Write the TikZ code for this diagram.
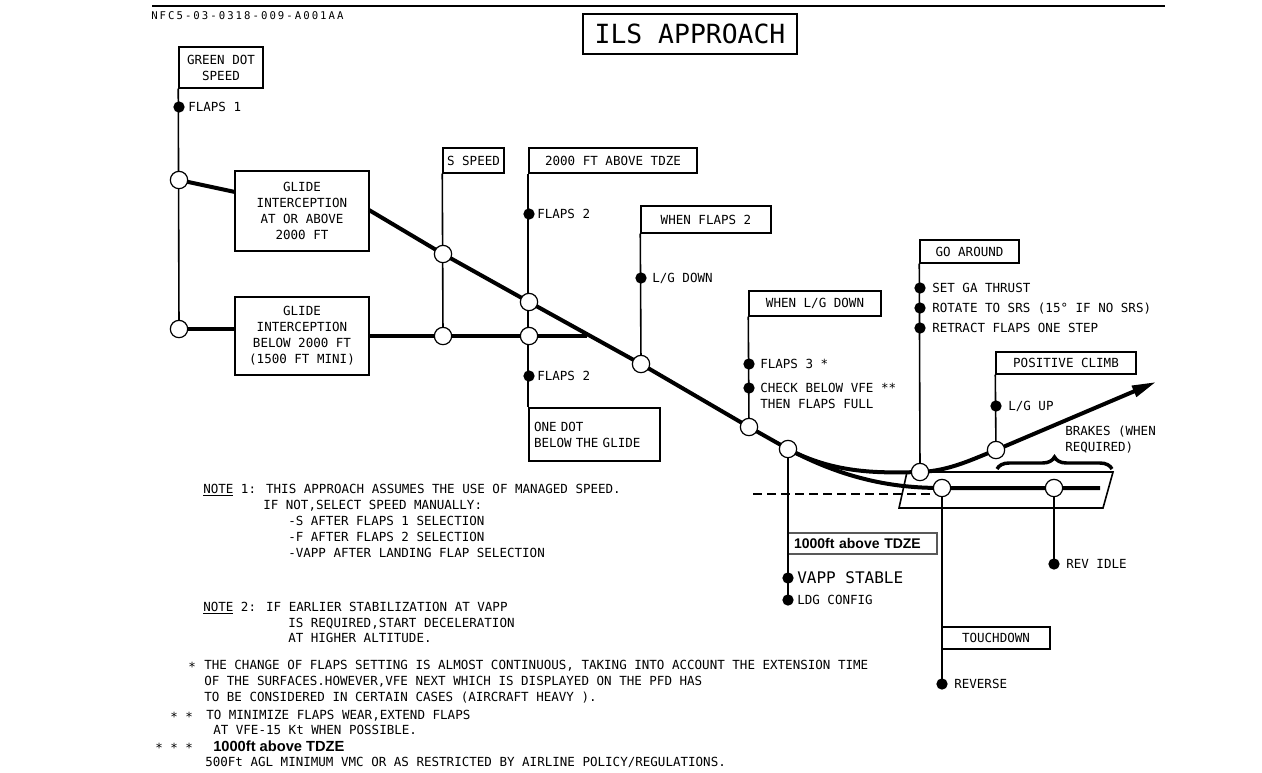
\documentclass[tikz,border=0pt]{standalone}
\usepackage{fontspec}
\setmainfont{DejaVu Sans Mono}
\newfontfamily\arialfont{Liberation Sans}
\newfontfamily\codefont[LetterSpace=19]{DejaVu Sans Mono}
\usetikzlibrary{arrows.meta,decorations.pathreplacing}
\tikzset{
  box/.style={draw, line width=1.1pt, fill=white, inner sep=0pt, align=center, font=\fontsize{9.4}{12}\selectfont},
  ocirc/.style={circle, draw, line width=0.9pt, fill=white, minimum size=13pt, inner sep=0pt},
  dot/.style={circle, fill=black, minimum size=8.5pt, inner sep=0pt},
  lbl/.style={font=\fontsize{9.4}{12}\selectfont, inner sep=0pt, text height=6.9pt, text depth=0pt, anchor=west},
  biglbl/.style={font=\fontsize{12}{14}\selectfont, inner sep=0pt, text height=8.8pt, text depth=0pt, anchor=west},
  stem/.style={line width=1.2pt},
  glide/.style={line width=3pt, line join=round},
  lowline/.style={line width=3.6pt},
}
\begin{document}
\begin{tikzpicture}[x=0.75pt,y=-0.75pt]
\useasboundingbox (0,0) rectangle (1262,772);
\fill[white] (0,0) rectangle (1262,772);

% header
\coordinate (r0) at (152,6); \coordinate (r1) at (1165,6);
\draw[line width=1.6pt] (r0) -- (r1);
\node[anchor=west, inner sep=0pt, font=\fontsize{8}{9}\codefont] (code) at (151,16) {NFC5-03-0318-009-A001AA};

% boxes
\node[box, line width=1.3pt, minimum width=160.5pt, minimum height=30pt, font=\fontsize{19.8}{24}\selectfont] (title) at (690,34) {ILS APPROACH};
\node[box, minimum width=63pt, minimum height=30.75pt] (gd) at (221,67.5) {GREEN DOT\\SPEED};
\node[box, minimum width=100.5pt, minimum height=60pt] (gi1) at (302,211) {GLIDE\\INTERCEPTION\\AT OR ABOVE\\2000 FT};
\node[box, minimum width=100.5pt, minimum height=58.5pt] (gi2) at (302,336) {GLIDE\\INTERCEPTION\\BELOW 2000 FT\\(1500 FT MINI)};
\node[box, minimum width=45.75pt, minimum height=18.75pt] (ss) at (473.5,160.5) {S SPEED};
\node[box, minimum width=126pt, minimum height=18.75pt] (tdze) at (613,160.5) {2000 FT ABOVE TDZE};
\node[box, minimum width=97.5pt, minimum height=20.25pt] (wf2) at (706,219.5) {WHEN FLAPS 2};
\node[box, minimum width=99pt, minimum height=18.75pt] (wlg) at (815,303.5) {WHEN L/G DOWN};
\node[box, minimum width=74.25pt, minimum height=17.25pt] (ga) at (969.5,251.5) {GO AROUND};
\node[box, minimum width=105pt, minimum height=16.5pt] (pc) at (1066,363) {POSITIVE CLIMB};
\node[box, align=left, text width=90.75pt, inner xsep=3.75pt, minimum height=39.75pt] (od) at (594.5,434.5) {ONE DOT\\BELOW THE GLIDE};
\node[box, draw=black!65, align=left, text width=102.75pt, inner xsep=4.5pt, minimum height=15.75pt, font=\arialfont\bfseries\fontsize{10.5}{12}\selectfont] (k1000) at (862.5,543.5) {1000ft above TDZE};
\node[box, minimum width=81pt, minimum height=16.5pt] (td) at (996,638) {TOUCHDOWN};

% key points
\coordinate (A0) at (179,180);
\coordinate (A1) at (235,192);
\coordinate (A2) at (369,210);
\coordinate (S1) at (443,254);
\coordinate (T1) at (529,302);
\coordinate (W1) at (641,364);
\coordinate (L1) at (749,427);
\coordinate (K1) at (788,449);
\coordinate (G1) at (920,472);
\coordinate (P1) at (996,450);
\coordinate (tip) at (1156,382);
\coordinate (TD) at (942,488);
\coordinate (RI) at (1054,488);
\coordinate (rwyEnd) at (1100,488);
\coordinate (B0) at (179,329);
\coordinate (B1) at (235,329);
\coordinate (B2) at (369,336);
\coordinate (S2) at (443,336);
\coordinate (T2) at (529,336);
\coordinate (B3) at (587,336);
\coordinate (ldgP) at (788,600);
\coordinate (revP) at (942,684);
\coordinate (riP) at (1054,564);
\coordinate (rw1) at (907,472);
\coordinate (rw2) at (1113,472);
\coordinate (rw3) at (1103,508);
\coordinate (rw4) at (899,508);
\coordinate (dsh0) at (753,494);
\coordinate (dsh1) at (934,494);
\coordinate (br0) at (997,469);
\coordinate (br1) at (1112,469);

% stems
\draw[stem] (gd.south west) -- (B0);
\draw[stem] (ss.south west) -- (S2);
\draw[stem] (tdze.south west) -- (od.north west);
\draw[stem] (wf2.south west) -- (W1);
\draw[stem] (wlg.south west) -- (L1);
\draw[stem] (K1) -- (ldgP);
\draw[stem] (ga.south west) -- (G1);
\draw[stem] (pc.south west) -- (P1);
\draw[stem] (TD) -- (revP);
\draw[stem] (RI) -- (riP);

% runway
\draw[stem] (rw1) -- (rw2) -- (rw3) -- (rw4) -- cycle;
\draw[stem, dash pattern=on 6.75pt off 3.75pt] (dsh0) -- (dsh1);
\draw[line width=2.6pt, decorate, decoration={brace, amplitude=9pt}] (br0) -- (br1);

% flight paths
\draw[glide] (A0) -- (A1);
\draw[glide, -{Triangle[length=18pt,width=8.5pt]}] (A2) -- (S1) -- (T1) -- (W1) -- (L1) -- (K1)
   .. controls (835,474) and (880,473) .. (G1)
   .. controls (950,471) and (975,458) .. (P1) -- (tip);
\draw[glide] (K1) .. controls (850,482) and (900,488) .. (TD) -- (rwyEnd);
\draw[lowline] (B0) -- (B1);
\draw[lowline] (B2) -- (S2) -- (T2) -- (B3);

% open circles
\foreach \p in {A0,B0,S1,S2,T1,T2,W1,L1,K1,G1,P1,TD,RI}
  \node[ocirc] (c\p) at (\p) {};

% dots and labels
\node[dot] (dF1) at (179,107) {};   \node[lbl] (tF1) at (188,107) {FLAPS 1};
\node[dot] (dF2a) at (529,214) {};  \node[lbl] (tF2a) at (537,214) {FLAPS 2};
\node[dot] (dF2b) at (529,376) {};  \node[lbl] (tF2b) at (537,376) {FLAPS 2};
\node[dot] (dLG) at (641,278) {};   \node[lbl] (tLG) at (652,278) {L/G DOWN};
\node[dot] (dF3) at (749,364) {};   \node[lbl] (tF3) at (760,364) {FLAPS 3 *};
\node[dot] (dCK) at (749,388) {};   \node[lbl] (tCK) at (760,388) {CHECK BELOW VFE **};
\node[lbl] (tCK2) at (760,404) {THEN FLAPS FULL};
\node[dot] (dGA1) at (920,288) {};  \node[lbl] (tGA1) at (932,288) {SET GA THRUST};
\node[dot] (dGA2) at (920,308) {};  \node[lbl] (tGA2) at (932,308) {ROTATE TO SRS (15° IF NO SRS)};
\node[dot] (dGA3) at (920,328) {};  \node[lbl] (tGA3) at (932,328) {RETRACT FLAPS ONE STEP};
\node[dot] (dLGU) at (996,406) {};  \node[lbl] (tLGU) at (1008,406) {L/G UP};
\node[dot] (dVS) at (788,578) {};   \node[biglbl] (tVS) at (797,578) {VAPP STABLE};
\node[dot] (ldg) at (ldgP) {};      \node[lbl] (tLDG) at (797,600) {LDG CONFIG};
\node[dot] (ri) at (riP) {};        \node[lbl] (tRI) at (1066,564) {REV IDLE};
\node[dot] (rev) at (revP) {};      \node[lbl] (tREV) at (954,684) {REVERSE};
\node[lbl] (tBR1) at (1065,431) {BRAKES (WHEN};
\node[lbl] (tBR2) at (1065,447) {REQUIRED)};

% notes
\node[lbl] (n1a) at (203,489) {\underline{NOTE} 1: THIS APPROACH ASSUMES THE USE OF MANAGED SPEED.};
\node[lbl] (n1b) at (263,505) {IF NOT,SELECT SPEED MANUALLY:};
\node[lbl] (n1c) at (288,521) {-S AFTER FLAPS 1 SELECTION};
\node[lbl] (n1d) at (288,537) {-F AFTER FLAPS 2 SELECTION};
\node[lbl] (n1e) at (288,553) {-VAPP AFTER LANDING FLAP SELECTION};
\node[lbl] (n2a) at (203,607) {\underline{NOTE} 2: IF EARLIER STABILIZATION AT VAPP};
\node[lbl] (n2b) at (288,623) {IS REQUIRED,START DECELERATION};
\node[lbl] (n2c) at (288,638) {AT HIGHER ALTITUDE.};

% footnotes
\node[lbl] (s1) at (188,667) {*};
\node[lbl] (f1a) at (204,665) {THE CHANGE OF FLAPS SETTING IS ALMOST CONTINUOUS, TAKING INTO ACCOUNT THE EXTENSION TIME};
\node[lbl] (f1b) at (204,681) {OF THE SURFACES.HOWEVER,VFE NEXT WHICH IS DISPLAYED ON THE PFD HAS};
\node[lbl] (f1c) at (204,697) {TO BE CONSIDERED IN CERTAIN CASES (AIRCRAFT HEAVY ).};
\node[lbl] (s2) at (170,717) {* *};
\node[lbl] (f2a) at (206,715) {TO MINIMIZE FLAPS WEAR,EXTEND FLAPS};
\node[lbl] (f2b) at (213,730) {AT VFE-15 Kt WHEN POSSIBLE.};
\node[lbl] (s3) at (155,748) {* * *};
\node[anchor=west, inner sep=0pt, text height=8pt, text depth=0pt, font=\arialfont\bfseries\fontsize{11}{12}\selectfont] (f3a) at (213,746) {1000ft above TDZE};
\node[lbl] (f3b) at (205,762) {500Ft AGL MINIMUM VMC OR AS RESTRICTED BY AIRLINE POLICY/REGULATIONS.};
\end{tikzpicture}
\end{document}
